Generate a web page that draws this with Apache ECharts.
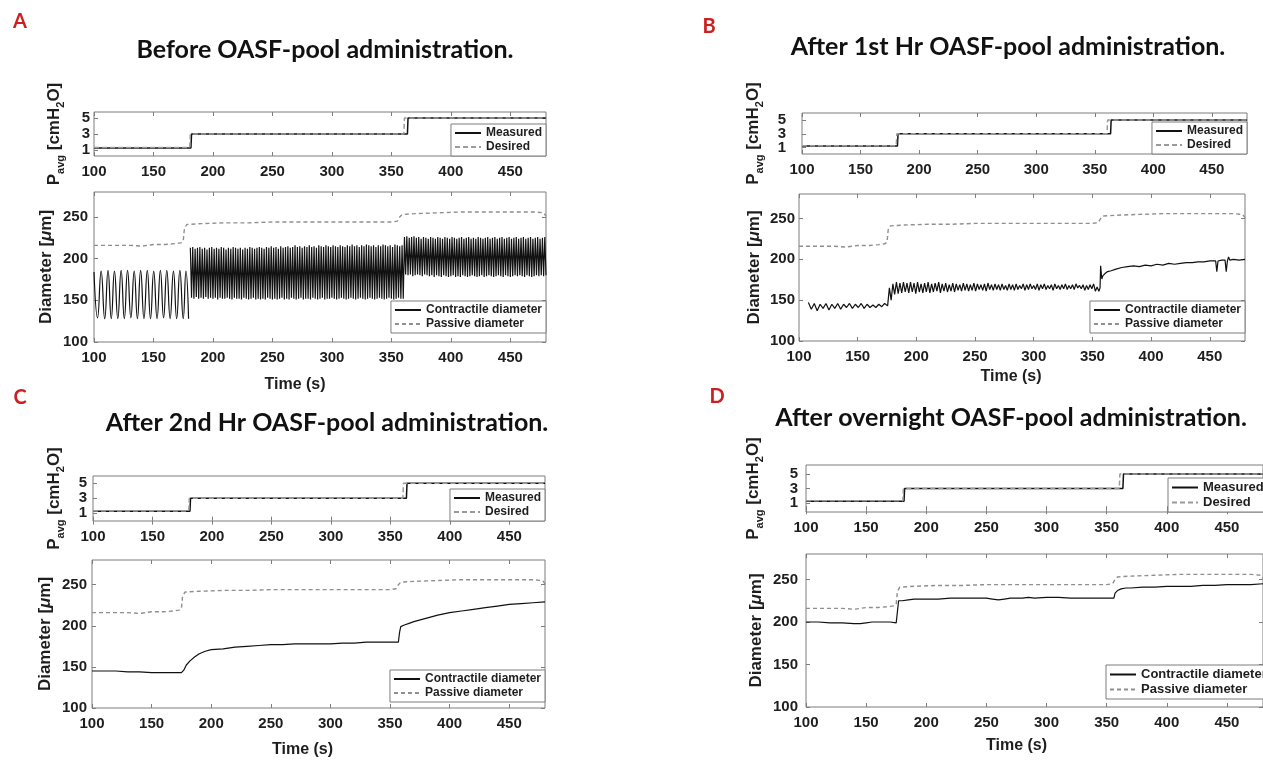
<!DOCTYPE html>
<html><head><meta charset="utf-8">
<script src="https://cdn.jsdelivr.net/npm/echarts@6/dist/echarts.min.js"></script>
<style>html,body{margin:0;padding:0;background:#fff;overflow:hidden}#c{width:1263px;height:760px}</style>
</head><body><div id="c"></div>
<script>
// ---------------- DATA ----------------
const xTicks = [100,150,200,250,300,350,400,450];
const pTicks = [1,3,5];
const pTicksOuter = [1,5];
const pTicksInner = [3];
const dTicks = [100,150,200,250];
const panelLetters = ['A','B','C','D'];
const panelTitles = ['Before OASF-pool administration.','After 1st Hr OASF-pool administration.','After 2nd Hr OASF-pool administration.','After overnight OASF-pool administration.'];

const pressureMeasured = [[100,1.25],[181.5,1.25],[182,3],[363.5,3],[364,5],[480,5]];
const pressureDesired = [[100,1.3],[180.5,1.3],[181,3],[360.5,3],[361,5],[480,5]];

const passiveDiameter = [[100,216],[110,216],[120,216],[130,216],[140,215],[150,217],[160,217],[168,218],[173,219],[175,221],[176,236],[178,241],[190,242],[210,243],[230,243],[250,244],[270,244],[290,244],[310,244],[330,244],[350,244],[355,245],[357,250],[359,253],[370,254],[390,255],[410,256],[430,256],[450,256],[470,256],[478,255],[480,251]];

// Panel A: slow oscillation (turning points), then 1-s samples
const aContractileSlow = [[100,184],[103,129],[106,185],[109,128],[111.8,186],[114.5,128],[117.2,185],[120,128],[122.8,186],[125.5,128],[128.2,186],[131,129],[133.8,185],[136.5,128],[139.2,186],[142,128],[144.8,186],[147.5,128],[150.2,185],[153,128],[155.8,186],[158.5,129],[161.2,186],[164,128],[166.8,185],[169.5,128],[172.2,186],[175,128],[177.3,185],[179.5,128]];
const aMidStart = 181, aMidStep = 1;
const aContractileMid = [
213,153,214,152,212,154,213,152,214,153,212,152,213,154,211,152,213,153,214,152,
212,153,213,151,212,153,214,152,213,152,211,153,213,152,212,151,214,153,213,152,
212,152,213,151,211,153,213,152,212,151,214,152,213,153,212,151,213,152,214,151,
213,152,212,151,214,153,213,152,215,151,213,152,214,151,212,152,215,153,213,151,
214,152,215,151,213,153,214,152,216,151,214,152,215,153,213,151,215,152,214,152,
216,151,214,153,215,152,213,151,216,152,215,153,214,151,216,152,215,152,214,153,
216,152,215,151,214,152,216,153,215,152,214,151,216,152,215,153,217,152,215,151,
216,152,214,153,216,152,215,151,217,152,216,153,215,152,216,151,214,152,216,153,
215,152,217,151,216,152,215,153,216,152,214,151,217,152,216,153,215,152,216,152];
const aLateStart = 361, aLateStep = 1;
const aContractileLate = [
226,181,227,180,225,181,226,179,227,180,225,181,226,180,224,179,226,181,225,180,
224,179,226,180,225,178,224,180,226,179,225,178,224,180,226,179,225,178,224,179,
226,180,225,178,224,179,225,178,226,180,224,179,225,178,226,179,224,180,225,179,
224,178,226,179,225,180,224,178,225,179,226,180,224,179,225,178,226,179,224,180,
225,179,226,178,224,180,225,179,226,178,224,179,225,180,226,179,224,180,225,179,
226,178,224,180,225,179,226,178,224,179,225,180,226,179,224,180,225,179,226,180];

// Panel B
const bEarlyStart = 108, bEarlyStep = 2.5;
const bContractileEarly = [147,139,146,137,145,140,146,138,145,140,146,139,145,141,146,140,145,141,146,140,145,141,144,141,145,142,146,143];
const bMidStart = 177, bMidStep = 1.5;
const bContractileMid = [
165,150,170,157,172,158,171,159,172,160,171,159,172,160,171,158,172,160,170,159,
171,160,172,159,170,160,171,161,172,159,170,161,171,160,169,161,171,160,170,162,
169,161,171,162,170,161,169,162,171,161,170,163,169,162,170,161,171,163,169,162,
170,163,169,162,170,163,168,162,170,163,169,162,170,163,168,164,170,162,169,163,
170,164,168,163,170,162,169,164,170,163,168,164,169,162,170,164,168,163,169,164,
170,163,168,164,169,163,170,165,168,164,169,162,168,163,169,164,170,161];
const bContractileLate = [[354,166],[355.5,161],[356.5,165],[357,192],[358,176],[359,180],[361,183],[363,185],[366,186],[370,188],[375,190],[380,191],[385,192],[390,191],[395,193],[400,192],[405,194],[410,193],[415,195],[420,194],[425,195],[430,196],[435,196],[440,197],[445,197],[450,198],[455,198],[456,185],[457,198],[460,199],[463,199],[464,185],[465,198],[466,203],[467,199],[470,200],[475,199],[480,200]];

// Panel C
const cContractile = [[100,145],[110,145],[120,145],[130,144],[140,144],[150,143],[160,143],[170,143],[175,143],[177,146],[179,152],[182,157],[186,162],[190,166],[195,169],[200,171],[210,172],[220,174],[230,175],[240,176],[250,177],[260,177],[270,178],[280,178],[290,178],[300,178],[310,179],[320,179],[330,180],[340,180],[350,180],[357,180],[358,192],[359,199],[362,201],[366,203],[370,205],[380,209],[390,213],[400,216],[410,218],[420,220],[430,222],[440,224],[450,226],[460,227],[470,228],[480,229]];

// Panel D
const dContractile = [[100,200],[110,200],[120,199],[130,199],[140,198],[145,198],[150,199],[155,200],[160,200],[165,200],[170,200],[175,199],[176,199],[177,225],[180,225],[185,226],[190,227],[200,227],[210,227],[220,228],[230,228],[240,228],[250,228],[255,227],[260,226],[265,227],[270,228],[280,228],[285,229],[290,228],[300,229],[310,229],[320,228],[330,228],[340,228],[350,228],[356,228],[357,234],[359,237],[362,239],[366,240],[370,240],[380,241],[390,241],[400,242],[410,242],[420,242],[430,243],[440,243],[450,244],[460,244],[470,244],[480,245]];

// ---------------- BUILD ----------------
function stepped(start, step, vals){ return vals.map((v,i)=>[start+i*step, v]); }

const panelContractile = [
  [{data: aContractileSlow, smooth: 0.5}, {data: stepped(aMidStart,aMidStep,aContractileMid).concat(stepped(aLateStart,aLateStep,aContractileLate))}],
  [{data: stepped(bEarlyStart,bEarlyStep,bContractileEarly).concat(stepped(bMidStart,bMidStep,bContractileMid)).concat(bContractileLate)}],
  [{data: cContractile}],
  [{data: dContractile}]
];

const FONT = '"Liberation Sans", Arial, Helvetica, sans-serif';
const AX = '#7d7d7d';
const TXT = '#1e1e1e';

const layout = [
  {top:{left:94,top:112,width:452,height:44}, bot:{left:94,top:192,width:452,height:150}, pRange:[0.25,5.75], titlePos:[325,50], letterPos:[20,22], pGap:28, dGap:39, pMargin:4, dMargin:6, timeGap:35, timeShift:25, legFont:12, topLeg:{right:717,bottom:604}, botLeg:{right:717,bottom:427}},
  {top:{left:802,top:113,width:445,height:41}, bot:{left:799,top:194,width:446,height:147}, pRange:[0.1,6], titlePos:[1008,47], letterPos:[709,27], pGap:37, dGap:36, pMargin:16, dMargin:4, timeGap:28, timeShift:11, legFont:12, topLeg:{right:16,bottom:606}, botLeg:{right:18,bottom:427}},
  {top:{left:93,top:476,width:452,height:45}, bot:{left:92,top:560,width:453,height:148}, pRange:[-0.05,5.95], titlePos:[327,423], letterPos:[20,398], pGap:27, dGap:38, pMargin:6, dMargin:5, timeGap:34, timeShift:16, legFont:12, topLeg:{right:718,bottom:239}, botLeg:{right:718,bottom:58}},
  {top:{left:806,top:465,width:464,height:47}, bot:{left:806,top:554,width:464,height:153}, pRange:[-0.25,6.25], titlePos:[1011,418], letterPos:[717,397], pGap:41, dGap:41, pMargin:8, dMargin:8, timeGap:31, timeShift:18, legFont:13, topLeg:{left:1168,top:478}, botLeg:{left:1106,top:665}}
];

const labelFont = {fontFamily:FONT, fontSize:15, fontWeight:'bold', color:TXT, hideOverlap:false};
const pName = '{p|P}{s|avg}{p| [cmH}{s|2}{p|O]}';
const pNameStyle = {fontFamily:FONT, fontWeight:'bold', color:TXT, rich:{
  p:{fontFamily:FONT, fontSize:17, fontWeight:'bold', color:TXT, lineHeight:23, verticalAlign:'middle'},
  s:{fontFamily:FONT, fontSize:11, fontWeight:'bold', color:TXT, verticalAlign:'bottom'}}};
const dName = '{d|Diameter [}{m|μ}{d|m]}';
const dNameStyle = {fontFamily:FONT, fontWeight:'bold', color:TXT, rich:{
  d:{fontFamily:FONT, fontSize:17, fontWeight:'bold', color:TXT},
  m:{fontFamily:FONT, fontSize:17, fontWeight:'bold', fontStyle:'italic', color:TXT}}};

const grid=[], xAxis=[], yAxis=[], series=[], legend=[], graphic=[];
const gridYAxis = []; // index of the main y axis for each grid

layout.forEach((p, pi) => {
  [p.top, p.bot].forEach((g, k) => {
    const gi = pi*2 + k;
    const isTop = k === 0;
    grid.push(Object.assign({show:true, borderColor:AX, borderWidth:1, backgroundColor:'transparent', containLabel:false}, g));
    xAxis.push({type:'value', gridIndex:gi, min:100, max:480, position:'bottom',
      axisLine:{show:false}, splitLine:{show:false},
      axisTick:{show:true, inside:true, length:4, customValues:xTicks, lineStyle:{color:AX}},
      axisLabel:Object.assign({show:true, customValues:xTicks, margin:8}, labelFont),
      name: isTop ? '' : 'Time (s)', nameLocation:'middle', nameGap:p.timeGap,
      nameTextStyle:{fontFamily:FONT, fontSize:16, fontWeight:'bold', color:TXT, padding:[0, 2*p.timeShift, 0, 0]}});
    xAxis.push({type:'value', gridIndex:gi, min:100, max:480, position:'top',
      axisLine:{show:false}, splitLine:{show:false}, axisLabel:{show:false},
      axisTick:{show:true, inside:true, length:4, customValues:xTicks, lineStyle:{color:AX}}});
    const yMin = isTop ? p.pRange[0] : 100, yMax = isTop ? p.pRange[1] : 280;
    gridYAxis[gi] = yAxis.length;
    yAxis.push({type:'value', gridIndex:gi, min:yMin, max:yMax, position:'left',
      axisLine:{show:false}, splitLine:{show:false},
      axisTick:{show:true, inside:true, length:4, customValues: isTop?pTicks:dTicks, lineStyle:{color:AX}},
      axisLabel:Object.assign({show:true, customValues: isTop?pTicksOuter:dTicks, margin: isTop?p.pMargin:p.dMargin}, labelFont),
      name: isTop ? pName : dName, nameLocation:'middle', nameRotate:90, nameGap: isTop?p.pGap:p.dGap,
      nameTextStyle: isTop ? pNameStyle : dNameStyle});
    yAxis.push({type:'value', gridIndex:gi, min:yMin, max:yMax, position:'right',
      axisLine:{show:false}, splitLine:{show:false}, axisLabel:{show:false},
      axisTick:{show:true, inside:true, length:4, customValues: isTop?pTicks:dTicks, lineStyle:{color:AX}}});
    if (isTop) {
      // second label layer on the left so the closely spaced pressure labels are all drawn
      yAxis.push({type:'value', gridIndex:gi, min:yMin, max:yMax, position:'left',
        axisLine:{show:false}, splitLine:{show:false}, axisTick:{show:false},
        axisLabel:Object.assign({show:true, customValues:pTicksInner, margin:p.pMargin}, labelFont)});
    }
  });
  const gt = pi*2, gb = pi*2+1;
  series.push({type:'line', name:'Measured', xAxisIndex:2*gt, yAxisIndex:gridYAxis[gt], data:pressureMeasured, symbol:'none', lineStyle:{color:'#111', width:1.5}, itemStyle:{color:'#111'}, z:2});
  series.push({type:'line', name:'Desired', xAxisIndex:2*gt, yAxisIndex:gridYAxis[gt], data:pressureDesired, symbol:'none', lineStyle:{color:'#9a9a9a', width:1.5, type:[5,3]}, itemStyle:{color:'#9a9a9a'}, z:3});
  panelContractile[pi].forEach(c => {
    series.push({type:'line', name:'Contractile diameter', xAxisIndex:2*gb, yAxisIndex:gridYAxis[gb], data:c.data, smooth:c.smooth||false, symbol:'none', lineStyle:{color:'#111', width:1.2}, itemStyle:{color:'#111'}, z:2});
  });
  series.push({type:'line', name:'Passive diameter', xAxisIndex:2*gb, yAxisIndex:gridYAxis[gb], data:passiveDiameter, symbol:'none', lineStyle:{color:'#8f8f8f', width:1.4, type:[4,3]}, itemStyle:{color:'#8f8f8f'}, z:3});

  const legBase = {orient:'vertical', itemWidth:26, itemHeight:14, itemGap:2, padding:[3,4,3,3],
    borderColor:AX, borderWidth:1, borderRadius:0, backgroundColor:'#fff', selectedMode:false,
    itemStyle:{opacity:0}, textStyle:{fontFamily:FONT, fontSize:p.legFont, fontWeight:'bold', color:TXT}, z:10};
  legend.push(Object.assign({}, legBase, p.topLeg, {data:['Measured','Desired']}));
  legend.push(Object.assign({}, legBase, p.botLeg, {data:['Contractile diameter','Passive diameter']}));

  graphic.push({type:'text', x:p.letterPos[0], y:p.letterPos[1], style:{text:panelLetters[pi], fill:'#cc1f1f', fontFamily:'Lato, "Open Sans", sans-serif', fontSize:20, fontWeight:'bold', align:'center', verticalAlign:'middle'}});
  graphic.push({type:'text', x:p.titlePos[0], y:p.titlePos[1], style:{text:panelTitles[pi], fill:'#111', fontFamily:'Lato, "Open Sans", sans-serif', fontSize:25, fontWeight:'bold', align:'center', verticalAlign:'middle'}});
});

const chart = echarts.init(document.getElementById('c'), null, {renderer:'canvas'});
chart.setOption({animation:false, backgroundColor:'#fff', grid, xAxis, yAxis, series, legend, graphic});
</script></body></html>
